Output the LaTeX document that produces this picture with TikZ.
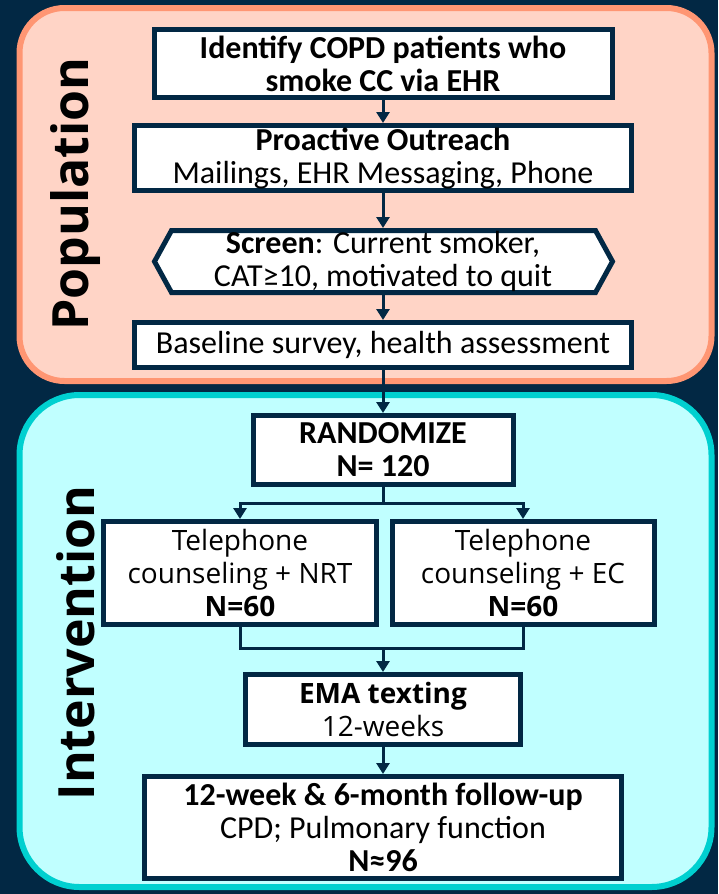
\documentclass[tikz,border=0pt]{standalone}
\usepackage{fontspec}
\setmainfont{Carlito}
\newfontfamily\segfont{Open Sans}
\usetikzlibrary{arrows.meta,calc}
\definecolor{navy}{RGB}{2,40,68}
\definecolor{popfill}{RGB}{255,212,198}
\definecolor{popborder}{RGB}{255,150,115}
\definecolor{intfill}{RGB}{192,255,255}
\definecolor{intborder}{RGB}{0,208,208}
\tikzset{
  box/.style={draw=navy, line width=5pt, fill=white, align=center, inner sep=0pt, text=black},
  calf/.style={font=\fontsize{32}{33}\selectfont},
  segf/.style={font=\segfont\fontsize{28}{33}\selectfont},
  conn/.style={draw=navy, line width=3pt},
  arr/.style={draw=navy, line width=3pt, -{Triangle[width=13pt,length=11pt]}},
  panellabel/.style={rotate=90, text=black, font=\segfont\bfseries\fontsize{50}{50}\selectfont}
}
\begin{document}
\begin{tikzpicture}[x=1pt,y=-1pt]
\fill[navy] (0,0) rectangle (718,894);
\useasboundingbox (0,0) rectangle (718,894);
% panels
\draw[line width=6pt, draw=popborder, fill=popfill, rounded corners=45pt] (19.5,8) rectangle (711.5,381);
\draw[line width=6pt, draw=intborder, fill=intfill, rounded corners=60pt] (19.5,395) rectangle (711.5,887);
% panel labels
\node[panellabel] (poplab) at (76,194) {Population};
\node[panellabel] (intlab) at (76,643) {Intervention};
% population boxes
\node[box, calf, minimum width=458pt, minimum height=68pt] (ident) at (383,63.5)
  {\bfseries Identify COPD patients who\\\bfseries smoke CC via EHR};
\node[box, calf, minimum width=497pt, minimum height=65pt] (outr) at (383,158)
  {\bfseries Proactive Outreach\\Mailings, EHR Messaging, Phone};
\draw[draw=navy, line width=5pt, fill=white, line join=miter]
  (171.5,230.5) -- (595.5,230.5) -- (612.5,261.5) -- (595.5,292.5) -- (171.5,292.5) -- (154.5,261.5) -- cycle;
\node[calf, align=center, inner sep=0pt, line width=5pt, minimum width=424pt, minimum height=62pt] (scr) at (383,261.5)
  {{\bfseries Screen}: Current smoker,\\CAT≥10, motivated to quit};
\node[box, calf, minimum width=497pt, minimum height=45pt] (base) at (383,345)
  {Baseline survey, health assessment};
% intervention boxes
\node[box, calf, minimum width=260pt, minimum height=69pt] (rand) at (383,450)
  {\bfseries RANDOMIZE\\\bfseries N= 120};
\node[box, segf, minimum width=273pt, minimum height=103pt] (nrt) at (240,573)
  {Telephone\\counseling + NRT\\\bfseries N=60};
\node[box, segf, minimum width=262pt, minimum height=103pt] (ec) at (523,573)
  {Telephone\\counseling + EC\\\bfseries N=60};
\node[box, segf, minimum width=275pt, minimum height=70pt] (ema) at (383,709.5)
  {\bfseries EMA texting\\12-weeks};
\node[box, calf, minimum width=477pt, minimum height=102pt] (fup) at (383,827.5)
  {\bfseries 12-week \& 6-month follow-up\\CPD; Pulmonary function\\\bfseries N≈96};
% connectors
\draw[arr] (ident.south) -- (outr.north);
\draw[arr] (outr.south) -- (scr.north);
\draw[arr] (scr.south) -- (base.north);
\draw[arr] (base.south) -- (rand.north);
\coordinate (sp) at (383,503);
\draw[conn] (rand.south) -- (sp);
\draw[arr] (sp) -| (nrt.north);
\draw[arr] (sp) -| (ec.north);
\coordinate (mg) at (383,648);
\draw[conn] (nrt.south) |- (mg);
\draw[conn] (ec.south) |- (mg);
\draw[arr] (mg) -- (ema.north);
\draw[arr] (ema.south) -- (fup.north);
\end{tikzpicture}
\end{document}
